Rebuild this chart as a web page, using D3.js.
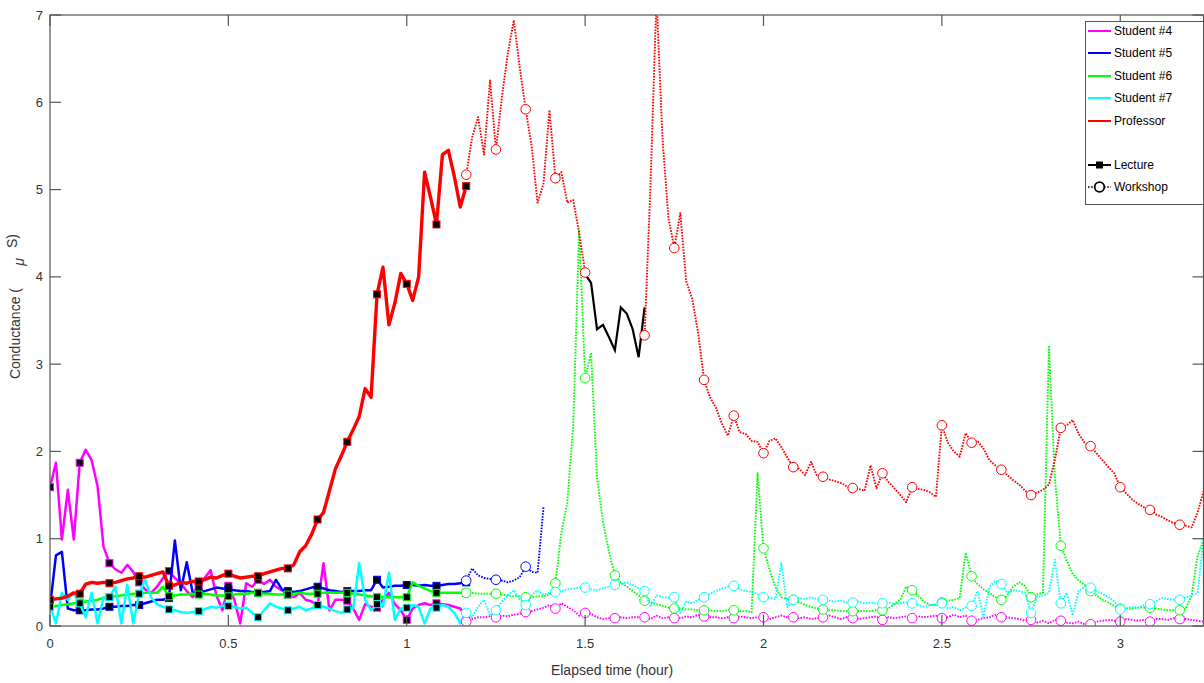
<!DOCTYPE html>
<html><head><meta charset="utf-8">
<script src="https://cdn.jsdelivr.net/npm/d3@7"></script>
<style>
body{margin:0;background:#fff;}
svg{display:block;font-family:"Liberation Sans",Arial,Helvetica,sans-serif;}
</style>
</head><body>
<svg id="chart" width="1204" height="683"></svg>
<script>
// ---------- data (minute-by-minute readings, conductance in µS) ----------
const lectureStartMin = 0;
const workshopStartMin = 70;
const breakStartMin = 90;
const endMin = 194;

const xTickValues = [0, 0.5, 1, 1.5, 2, 2.5, 3];
const xTickLabels = ["0", "0.5", "1", "1.5", "2", "2.5", "3"];
const yTickValues = [0, 1, 2, 3, 4, 5, 6, 7];
const yTickLabels = ["0", "1", "2", "3", "4", "5", "6", "7"];

const seriesNames = ["Student #4", "Student #5", "Student #6", "Student #7", "Professor"];
const seriesColors = ["#ff00ff", "#0000ff", "#00ff00", "#00ffff", "#ff0000"];
const phaseNames = ["Lecture", "Workshop"];

// Student #4 (magenta)
const s4Lecture = [
  1.59,1.87,0.99,1.56,0.99,1.87,2.02,1.90,1.60,0.91,
  0.72,0.65,0.61,0.70,0.62,0.50,0.42,0.38,0.45,0.55,
  0.63,0.55,0.49,0.40,0.33,0.45,0.55,0.64,0.35,0.18,
  0.46,0.30,0.03,0.49,0.45,0.53,0.48,0.53,0.45,0.41,
  0.36,0.33,0.38,0.30,0.28,0.24,0.72,0.18,0.30,0.30,
  0.29,0.20,0.07,0.25,0.22,0.21,0.30,0.38,0.25,0.18,
  0.07,0.20,0.24,0.26,0.24,0.26,0.25,0.24,0.22,0.20,
  0.10];
const s4Workshop = [
  0.05,0.08,0.10,0.10,0.11,0.10,0.12,0.11,0.13,0.14,
  0.16,0.17,0.19,0.21,0.24,0.20,0.26,0.22,0.18,0.12,
  0.15,0.14,0.10,0.08,0.09,0.09,0.10,0.09,0.10,0.10,
  0.10,0.08,0.12,0.09,0.10,0.09,0.09,0.11,0.10,0.13,
  0.11,0.10,0.10,0.09,0.10,0.09,0.11,0.10,0.09,0.10,
  0.10,0.08,0.10,0.12,0.10,0.10,0.09,0.10,0.08,0.09,
  0.10,0.12,0.10,0.08,0.10,0.09,0.08,0.09,0.10,0.11,
  0.07,0.10,0.09,0.10,0.11,0.09,0.11,0.10,0.11,0.12,
  0.09,0.10,0.13,0.10,0.12,0.06,0.07,0.09,0.10,0.13,
  0.10,0.10,0.09,0.08,0.06,0.07,0.04,0.06,0.03,0.07,
  0.06,0.04,0.03,0.05,0.02,0.02,0.05,0.06,0.07,0.06,
  0.05,0.08,0.07,0.06,0.07,0.05,0.08,0.08,0.07,0.09,
  0.08,0.08,0.07,0.06,0.05];

// Student #5 (blue)
const s5Lecture = [
  0.22,0.81,0.85,0.20,0.18,0.18,0.18,0.19,0.19,0.20,
  0.22,0.22,0.23,0.23,0.24,0.24,0.26,0.28,0.30,0.30,
  0.32,0.98,0.41,0.73,0.38,0.38,0.40,0.42,0.44,0.43,
  0.42,0.41,0.40,0.40,0.39,0.38,0.39,0.40,0.53,0.42,
  0.40,0.39,0.40,0.42,0.44,0.45,0.43,0.41,0.40,0.39,
  0.40,0.40,0.40,0.41,0.41,0.53,0.44,0.45,0.46,0.46,
  0.47,0.47,0.46,0.47,0.46,0.46,0.47,0.48,0.48,0.49,
  0.50];
const s5Workshop = [
  0.52,0.66,0.58,0.55,0.54,0.53,0.52,0.50,0.52,0.56,
  0.68,0.62,0.61,1.36];

// Student #6 (green)
const s6Lecture = [
  0.22,0.23,0.24,0.25,0.26,0.27,0.28,0.29,0.30,0.32,
  0.33,0.34,0.35,0.36,0.37,0.37,0.38,0.38,0.38,0.45,
  0.34,0.35,0.36,0.36,0.37,0.36,0.37,0.36,0.35,0.35,
  0.34,0.36,0.37,0.37,0.38,0.38,0.37,0.37,0.36,0.36,
  0.36,0.37,0.38,0.37,0.37,0.37,0.38,0.38,0.38,0.38,
  0.38,0.37,0.36,0.35,0.34,0.33,0.33,0.33,0.33,0.33,
  0.33,0.50,0.46,0.43,0.40,0.38,0.38,0.38,0.38,0.38,
  0.38];
const s6Workshop = [
  0.38,0.38,0.37,0.37,0.37,0.37,0.36,0.35,0.34,0.34,
  0.33,0.33,0.34,0.34,0.36,0.49,1.07,1.41,2.30,4.54,
  2.84,3.13,1.70,1.20,0.85,0.58,0.50,0.45,0.40,0.35,
  0.29,0.27,0.25,0.23,0.21,0.20,0.20,0.19,0.19,0.18,
  0.18,0.18,0.17,0.17,0.18,0.18,0.17,0.17,0.16,1.75,
  0.89,0.65,0.45,0.33,0.31,0.30,0.27,0.24,0.22,0.20,
  0.19,0.18,0.18,0.17,0.17,0.17,0.17,0.17,0.17,0.18,
  0.18,0.20,0.25,0.30,0.45,0.41,0.35,0.28,0.24,0.24,
  0.27,0.29,0.30,0.32,0.84,0.57,0.48,0.42,0.38,0.33,
  0.30,0.35,0.45,0.50,0.46,0.33,0.36,0.38,3.20,1.70,
  0.92,0.75,0.60,0.52,0.47,0.40,0.35,0.30,0.27,0.23,
  0.20,0.20,0.20,0.21,0.21,0.21,0.20,0.19,0.18,0.18,
  0.18,0.20,0.35,0.80,0.99];

// Student #7 (cyan)
const s7Lecture = [
  0.22,0.03,0.38,0.30,0.38,0.26,0.10,0.38,0.03,0.33,
  0.33,0.45,0.03,0.47,0.03,0.37,0.53,0.33,0.25,0.22,
  0.19,0.18,0.16,0.15,0.16,0.17,0.19,0.22,0.21,0.23,
  0.23,0.22,0.20,0.21,0.15,0.10,0.18,0.26,0.22,0.20,
  0.18,0.20,0.22,0.18,0.20,0.24,0.22,0.20,0.17,0.15,
  0.19,0.20,0.72,0.30,0.18,0.25,0.22,0.61,0.07,0.20,
  0.21,0.24,0.22,0.03,0.20,0.21,0.24,0.22,0.15,0.03,
  0.15];
const s7Workshop = [
  0.15,0.10,0.22,0.30,0.12,0.18,0.28,0.35,0.41,0.30,
  0.24,0.35,0.41,0.36,0.38,0.39,0.40,0.42,0.43,0.44,
  0.44,0.42,0.41,0.43,0.45,0.47,0.48,0.50,0.47,0.43,
  0.40,0.22,0.35,0.33,0.32,0.33,0.15,0.28,0.26,0.30,
  0.33,0.37,0.40,0.43,0.45,0.46,0.42,0.40,0.39,0.37,
  0.33,0.32,0.31,0.72,0.22,0.30,0.32,0.31,0.33,0.31,
  0.30,0.29,0.28,0.29,0.27,0.27,0.28,0.26,0.27,0.26,
  0.26,0.27,0.25,0.26,0.27,0.26,0.24,0.22,0.24,0.25,
  0.26,0.20,0.22,0.18,0.21,0.23,0.40,0.10,0.45,0.52,
  0.48,0.38,0.41,0.40,0.38,0.15,0.33,0.35,0.38,0.76,
  0.26,0.38,0.12,0.40,0.45,0.44,0.40,0.37,0.33,0.28,
  0.19,0.20,0.22,0.21,0.24,0.25,0.28,0.32,0.31,0.30,
  0.30,0.33,0.35,0.38,0.99];

// Professor (red; black segment between the two workshop parts)
const profLecture = [
  0.30,0.31,0.32,0.34,0.38,0.37,0.48,0.50,0.49,0.50,
  0.49,0.50,0.52,0.54,0.55,0.57,0.56,0.58,0.60,0.62,
  0.46,0.47,0.50,0.49,0.51,0.51,0.53,0.56,0.55,0.58,
  0.60,0.57,0.55,0.56,0.57,0.57,0.60,0.62,0.64,0.66,
  0.66,0.70,0.85,0.92,1.05,1.22,1.30,1.55,1.80,1.95,
  2.11,2.25,2.40,2.72,2.62,3.80,4.11,3.45,3.70,4.04,
  3.92,3.73,4.00,5.20,4.91,4.60,5.40,5.45,5.15,4.80,
  5.04];
const profWorkshop = [
  5.17,5.60,5.83,5.40,6.25,5.46,6.06,6.56,6.94,6.40,
  5.92,5.50,4.85,5.07,5.91,5.13,5.20,4.85,4.88,4.50,
  4.05,null,null,null,null,null,null,null,null,null,
  3.33,5.07,7.20,5.60,4.68,4.33,4.73,3.95,3.75,3.36,
  2.82,2.62,2.50,2.32,2.18,2.41,2.22,2.20,2.12,2.11,
  1.98,2.12,2.15,2.05,1.93,1.82,1.80,1.73,1.88,1.72,
  1.71,1.68,1.66,1.64,1.60,1.58,1.57,1.55,1.84,1.58,
  1.75,1.65,1.58,1.50,1.42,1.59,1.57,1.56,1.53,1.48,
  2.30,2.10,2.00,1.94,2.21,2.10,2.12,2.03,1.90,1.84,
  1.79,1.73,1.67,1.62,1.55,1.50,1.53,1.56,1.62,1.90,
  2.27,2.30,2.36,2.20,2.10,2.06,1.98,1.90,1.82,1.75,
  1.59,1.52,1.45,1.40,1.36,1.33,1.28,1.25,1.21,1.18,
  1.16,1.15,1.13,1.30,1.54];
const profBreak = [4.03,3.93,3.40,3.45,3.31,3.16,3.65,3.58,3.40,3.08,3.65];

// ---------- drawing ----------
const plot = {left: 50, right: 1203.5, top: 15, bottom: 626};
const svg = d3.select("#chart");

const x = d3.scaleLinear().domain([0, endMin / 60]).range([plot.left, plot.right]);
const y = d3.scaleLinear().domain([0, 7]).range([plot.bottom, plot.top]);

svg.append("defs").append("clipPath").attr("id", "clip")
  .append("rect").attr("x", plot.left).attr("y", plot.top)
  .attr("width", plot.right - plot.left).attr("height", plot.bottom - plot.top);

function toPoints(arr, startMin) {
  return arr.map((v, i) => ({m: startMin + i, t: (startMin + i) / 60, v: v}));
}
const line = d3.line().defined(d => d.v !== null).x(d => x(d.t)).y(d => y(d.v));

const lectures = [s4Lecture, s5Lecture, s6Lecture, s7Lecture, profLecture];
const workshops = [s4Workshop, s5Workshop, s6Workshop, s7Workshop, profWorkshop];

const g = svg.append("g").attr("clip-path", "url(#clip)");

function drawSeries(arr, start, color, phase) {
  const pts = toPoints(arr, start);
  const lg = g.append("g");
  const path = lg.append("path").datum(pts).attr("d", line)
    .attr("fill", "none").attr("stroke", color)
    .attr("stroke-linejoin", "round");
  if (phase === 0) {
    path.attr("stroke-width", color === "#ff0000" ? 3.4 : 2.5);
  } else {
    path.attr("stroke-width", 1.9).attr("stroke-dasharray", "1.6 1.3");
  }
  const mk = pts.filter(d => d.v !== null && d.m % 5 === 0);
  if (phase === 0) {
    lg.selectAll("rect").data(mk).join("rect")
      .attr("x", d => x(d.t) - 3.5).attr("y", d => y(d.v) - 3.5)
      .attr("width", 7).attr("height", 7)
      .attr("fill", "#000").attr("stroke", color).attr("stroke-width", 1);
  } else {
    lg.selectAll("circle").data(mk).join("circle")
      .attr("cx", d => x(d.t)).attr("cy", d => y(d.v)).attr("r", 4.8)
      .attr("fill", "#fff").attr("stroke", color).attr("stroke-width", 1);
  }
}

lectures.forEach((arr, i) => drawSeries(arr, lectureStartMin, seriesColors[i], 0));
// professor break segment (black)
g.append("path").datum(toPoints(profBreak, breakStartMin)).attr("d", line)
  .attr("fill", "none").attr("stroke", "#000").attr("stroke-width", 2.2);
workshops.forEach((arr, i) => drawSeries(arr, workshopStartMin, seriesColors[i], 1));

// ---------- axes box ----------
const axisColor = "#555";
const tickLen = 11;
const ax = svg.append("g");
ax.append("rect").attr("x", plot.left).attr("y", plot.top)
  .attr("width", plot.right - plot.left).attr("height", plot.bottom - plot.top)
  .attr("fill", "none").attr("stroke", axisColor).attr("stroke-width", 1.2);

xTickValues.forEach((v, i) => {
  const px = x(v);
  ax.append("line").attr("x1", px).attr("x2", px).attr("y1", plot.bottom).attr("y2", plot.bottom - tickLen)
    .attr("stroke", axisColor).attr("stroke-width", 1.2);
  ax.append("line").attr("x1", px).attr("x2", px).attr("y1", plot.top).attr("y2", plot.top + tickLen)
    .attr("stroke", axisColor).attr("stroke-width", 1.2);
  ax.append("text").attr("x", px).attr("y", plot.bottom + 22).attr("text-anchor", "middle")
    .attr("font-size", 13).attr("fill", "#333").text(xTickLabels[i]);
});
yTickValues.forEach((v, i) => {
  const py = y(v);
  ax.append("line").attr("x1", plot.left).attr("x2", plot.left + tickLen).attr("y1", py).attr("y2", py)
    .attr("stroke", axisColor).attr("stroke-width", 1.2);
  ax.append("line").attr("x1", plot.right).attr("x2", plot.right - tickLen).attr("y1", py).attr("y2", py)
    .attr("stroke", axisColor).attr("stroke-width", 1.2);
  ax.append("text").attr("x", plot.left - 7).attr("y", py + 4.5).attr("text-anchor", "end")
    .attr("font-size", 13).attr("fill", "#333").text(yTickLabels[i]);
});

// axis labels
svg.append("text").attr("x", 612).attr("y", 675).attr("text-anchor", "middle")
  .attr("font-size", 14).attr("fill", "#333").text("Elapsed time (hour)");
svg.append("text").attr("transform", "translate(20,288) rotate(-90)").attr("text-anchor", "end")
  .attr("font-size", 14).attr("fill", "#333").text("Conductance (");
svg.append("text").attr("transform", "translate(24,262) rotate(-90)").attr("text-anchor", "middle")
  .attr("font-size", 14).attr("font-style", "italic").attr("fill", "#333").text("\u03bc");
svg.append("text").attr("transform", "translate(17,241) rotate(-90)").attr("text-anchor", "middle")
  .attr("font-size", 14).attr("fill", "#333").text("S)");

// ---------- legend ----------
const lg = svg.append("g");
lg.append("rect").attr("x", 1085.5).attr("y", 21.5).attr("width", 118).attr("height", 183)
  .attr("fill", "#fff").attr("stroke", "#555").attr("stroke-width", 1);
const rowY = [31, 53, 76, 98, 121];
seriesNames.forEach((name, i) => {
  lg.append("line").attr("x1", 1088).attr("x2", 1111).attr("y1", rowY[i]).attr("y2", rowY[i])
    .attr("stroke", seriesColors[i]).attr("stroke-width", 2);
  lg.append("text").attr("x", 1114).attr("y", rowY[i] + 4).attr("font-size", 12).attr("fill", "#000").text(name);
});
const phaseY = [165, 187];
lg.append("line").attr("x1", 1088).attr("x2", 1111).attr("y1", phaseY[0]).attr("y2", phaseY[0])
  .attr("stroke", "#000").attr("stroke-width", 2);
lg.append("rect").attr("x", 1099.5 - 3.5).attr("y", phaseY[0] - 3.5).attr("width", 7).attr("height", 7).attr("fill", "#000");
lg.append("text").attr("x", 1114).attr("y", phaseY[0] + 4).attr("font-size", 12).attr("fill", "#000").text(phaseNames[0]);
lg.append("line").attr("x1", 1088).attr("x2", 1111).attr("y1", phaseY[1]).attr("y2", phaseY[1])
  .attr("stroke", "#000").attr("stroke-width", 1.7).attr("stroke-dasharray", "1.6 1.6");
lg.append("circle").attr("cx", 1099.5).attr("cy", phaseY[1]).attr("r", 4.8)
  .attr("fill", "#fff").attr("stroke", "#000").attr("stroke-width", 1.8);
lg.append("text").attr("x", 1114).attr("y", phaseY[1] + 4).attr("font-size", 12).attr("fill", "#000").text(phaseNames[1]);
</script>
</body></html>
